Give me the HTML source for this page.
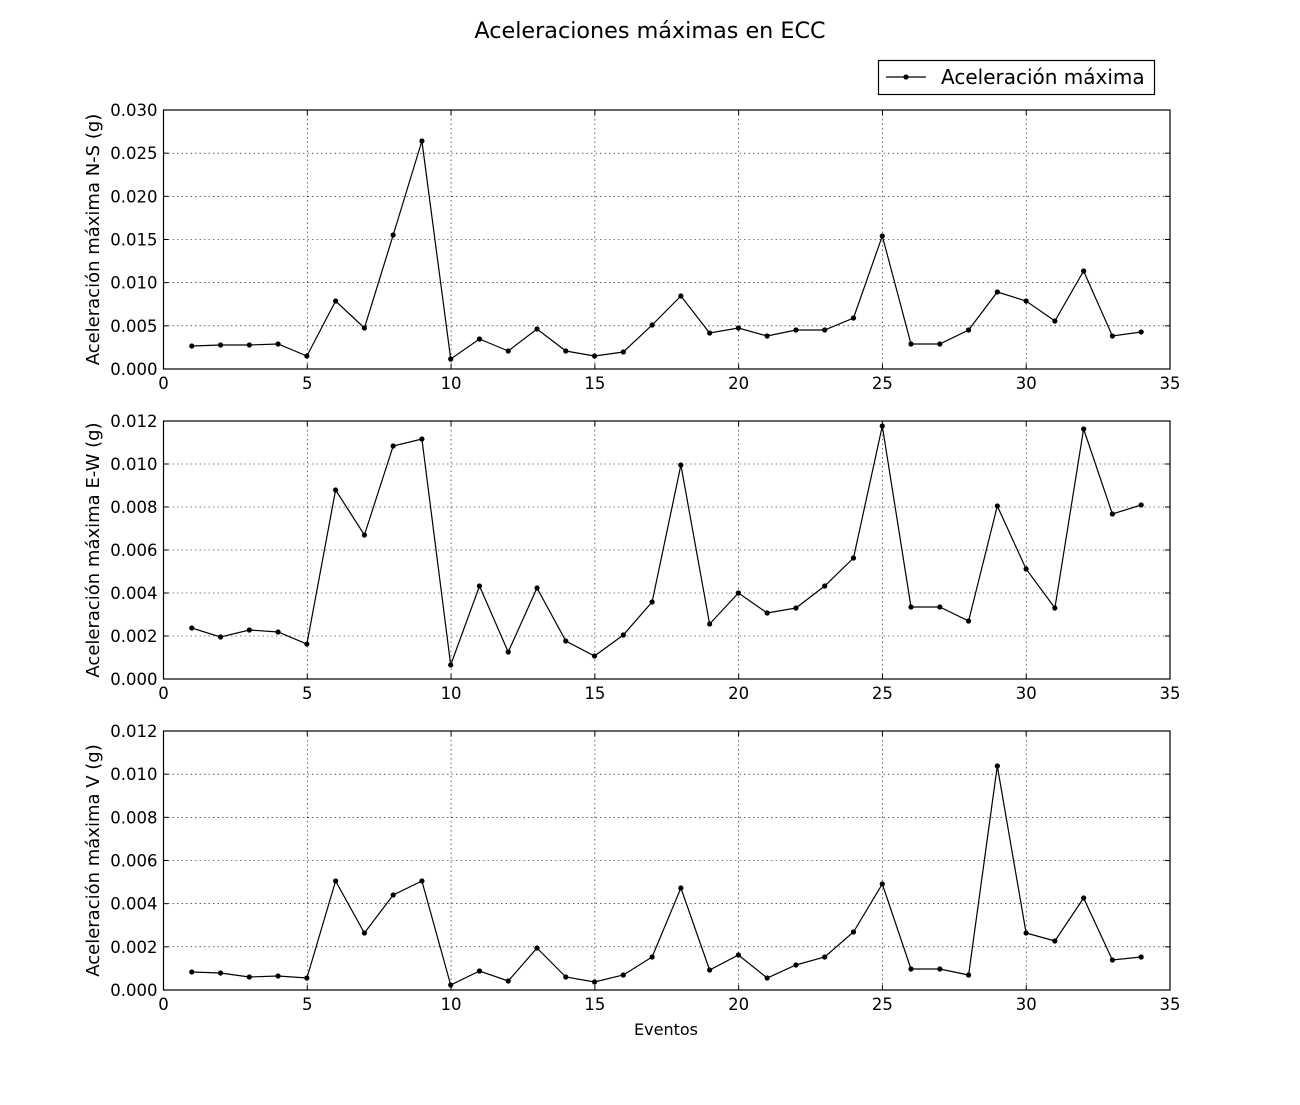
<!DOCTYPE html>
<html><head><meta charset="utf-8"><style>
body{margin:0;background:#fff;width:1300px;height:1100px;overflow:hidden}
text{font-family:"DejaVu Sans","Liberation Sans",sans-serif;fill:#000}
</style></head><body>
<svg id="s" width="1300" height="1100" xmlns="http://www.w3.org/2000/svg">
<text x="650" y="38" font-size="22.3" text-anchor="middle">Aceleraciones máximas en ECC</text>
<rect x="878.5" y="60.5" width="276" height="34" fill="#fff" stroke="#000" stroke-width="1.2"/>
<line x1="886" y1="77" x2="926" y2="77" stroke="#000" stroke-width="1.2"/>
<circle cx="906" cy="77" r="2.6"/>
<text x="941" y="84" font-size="20">Aceleración máxima</text>
<text x="666" y="1035" font-size="16" text-anchor="middle">Eventos</text>
</svg>
<script>
var s=document.getElementById('s'),NS='http://www.w3.org/2000/svg';
function el(t,a,txt){var e=document.createElementNS(NS,t);for(var k in a)e.setAttribute(k,a[k]);if(txt)e.textContent=txt;s.appendChild(e);return e;}
var L=163.5,R=1170,W=R-L;
var panels=[
{top:110,bot:369,lab:["0.000","0.005","0.010","0.015","0.020","0.025","0.030"],yl:"Aceleración máxima N-S (g)",
 y:[346,345,345,344,356,301,328,235,141,359,339,351,329,351,356,352,325,296,333,328,336,330,330,318,236,344,344,330,292,301,321,271,336,332]},
{top:421,bot:679,lab:["0.000","0.002","0.004","0.006","0.008","0.010","0.012"],yl:"Aceleración máxima E-W (g)",
 y:[628,637,630,632,644,490,535,446,439,665,586,652,588,641,656,635,602,465,624,593,613,608,586,558,426,607,607,621,506,569,608,429,514,505]},
{top:731,bot:990,lab:["0.000","0.002","0.004","0.006","0.008","0.010","0.012"],yl:"Aceleración máxima V (g)",
 y:[972,973,977,976,978,881,933,895,881,985,971,981,948,977,982,975,957,888,970,955,978,965,957,932,884,969,969,975,766,933,941,898,960,957]}];
panels.forEach(function(p){
 var H=p.bot-p.top;
 for(var i=0;i<=7;i++){var x=L+W*i/7;
  if(i>0&&i<7)el('line',{x1:x,x2:x,y1:p.top,y2:p.bot,stroke:'#000','stroke-width':0.6,'stroke-dasharray':'1.5,3'});
  el('line',{x1:x,x2:x,y1:p.bot,y2:p.bot-5,stroke:'#000'});el('line',{x1:x,x2:x,y1:p.top,y2:p.top+5,stroke:'#000'});
  el('text',{x:x,y:p.bot+20,'font-size':16.5,'text-anchor':'middle'},String(i*5));}
 for(var j=0;j<=6;j++){var y=p.bot-H*j/6;
  if(j>0&&j<6)el('line',{x1:L,x2:R,y1:y,y2:y,stroke:'#000','stroke-width':0.6,'stroke-dasharray':'1.5,3'});
  el('line',{x1:L,x2:L+5,y1:y,y2:y,stroke:'#000'});el('line',{x1:R,x2:R-5,y1:y,y2:y,stroke:'#000'});
  el('text',{x:L-6,y:y+6,'font-size':16.5,'text-anchor':'end'},p.lab[j]);}
 el('rect',{x:L,y:p.top,width:W,height:H,fill:'none',stroke:'#000','stroke-width':1.2});
 var pts=p.y.map(function(v,i){return (163+(i+1)*28.77).toFixed(1)+','+v;}).join(' ');
 el('polyline',{points:pts,fill:'none',stroke:'#000','stroke-width':1.2});
 p.y.forEach(function(v,i){el('circle',{cx:163+(i+1)*28.77,cy:v,r:2.6});});
 var cy=(p.top+p.bot)/2;
 el('text',{x:99,y:cy,'font-size':18,'text-anchor':'middle',transform:'rotate(-90 99 '+cy+')'},p.yl);
});
</script>
</body></html>
